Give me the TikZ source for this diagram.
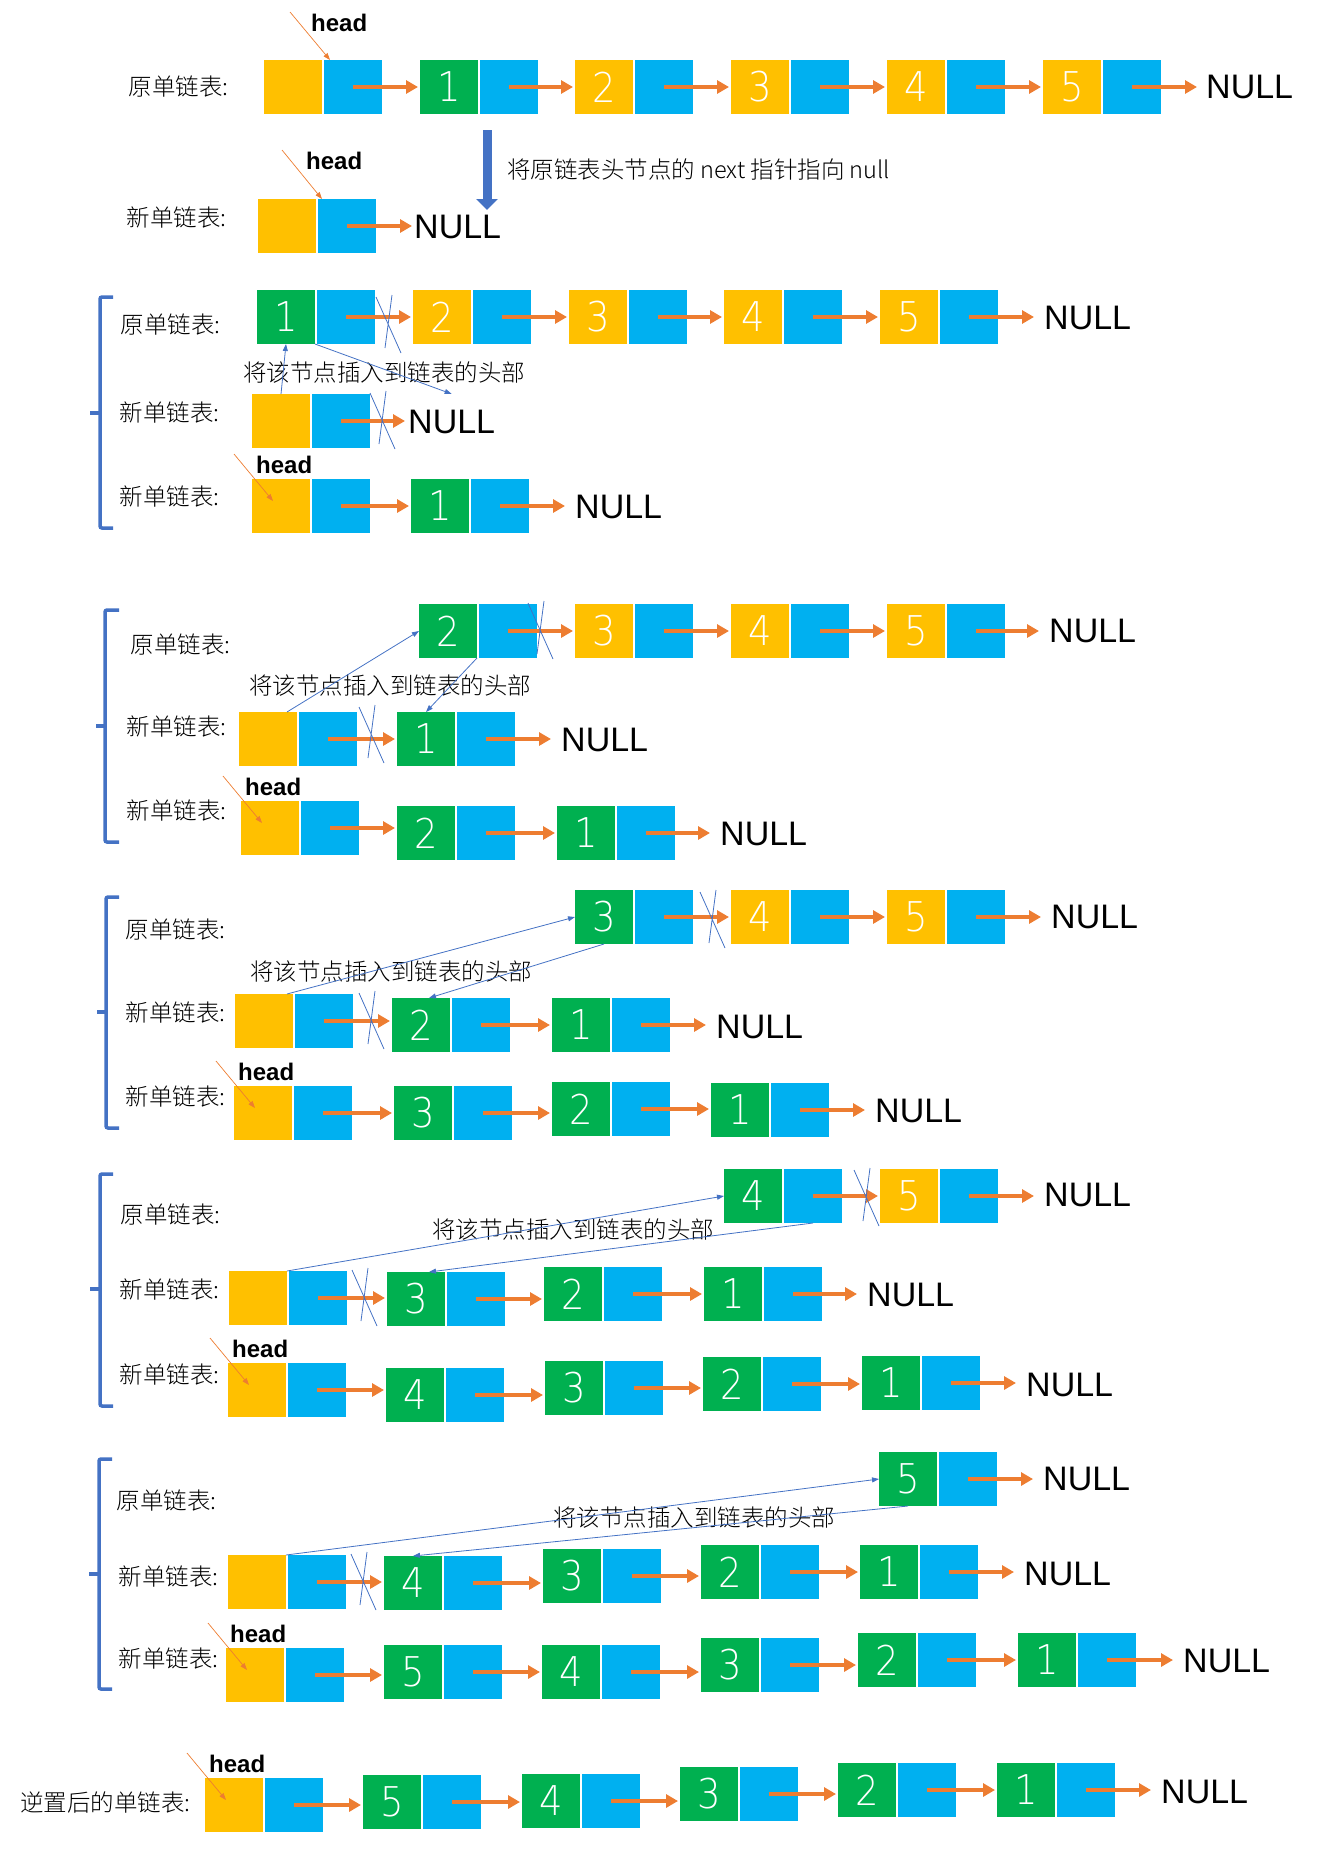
\documentclass[tikz,border=0pt]{standalone}
\usepackage{fontspec}
\usepackage{xcolor}
\usetikzlibrary{arrows.meta}

\IfFontExistsTF{Noto Sans CJK SC Light}
  {\newfontfamily\cjk{Noto Sans CJK SC Light}}
  {\newfontfamily\cjk{Noto Sans CJK SC}}
\newfontfamily\latinfont{Liberation Sans}
\IfFontExistsTF{DejaVu Sans ExtraLight}
  {\newfontfamily\digitfont[FakeStretch=0.9]{DejaVu Sans ExtraLight}}
  {\newfontfamily\digitfont{Liberation Sans}}

\definecolor{cellyellow}{HTML}{FFC000}
\definecolor{cellblue}{HTML}{00B0F0}
\definecolor{cellgreen}{HTML}{00B050}
\definecolor{linkorange}{HTML}{ED7D31}
\definecolor{markblue}{HTML}{4472C4}

\tikzset{
  cell/.style={minimum width=58pt, minimum height=54pt, inner sep=0pt,
    outer sep=0pt, anchor=north west, text=white,
    font=\digitfont\fontsize{41}{41}\selectfont},
  rowname/.style={anchor=east, inner sep=0pt, font=\cjk\fontsize{23.5}{24}\selectfont},
  note/.style={inner sep=0pt, font=\cjk\fontsize{23.5}{24}\selectfont},
  nulltext/.style={anchor=west, inner sep=0pt, font=\latinfont\fontsize{34}{34}\selectfont},
  headtext/.style={anchor=south west, inner sep=0pt,
    font=\latinfont\bfseries\fontsize{24}{24}\selectfont},
  link/.style={draw=linkorange, line width=4pt, -{Triangle[length=12pt,width=13pt]},
    shorten >=2pt},
  headptr/.style={draw=linkorange, line width=0.7pt, -{Triangle[length=7pt,width=5pt]}},
  insert/.style={draw=markblue, line width=0.8pt, -{Triangle[length=7pt,width=5pt]}},
  cross/.style={draw=markblue, line width=0.8pt},
  brace/.style={draw=markblue, line width=3.5pt, rounded corners=2pt},
  drop/.style={draw=markblue, line width=9pt, -{Triangle[length=11pt,width=21pt]}},
}

% list node: data cell + pointer cell
\newcommand\lnode[5]{%
  \node[cell, fill=#4] (#1d) at (#2,#3) {#5};
  \node[cell, fill=cellblue] (#1p) at (#2+60,#3) {};
}
\newcommand\link[3][]{\draw[link,#1] (#2p.center) -- (#2p.center -| #3d.west);}
\newcommand\tonull[3][]{\draw[link,shorten >=10pt,#1] (#2p.center) -- (#2p.center -| #3.west);}
\newcommand\crossmark[2]{\draw[cross] (#1,#2) -- ++(25,56) (#1+16,#2-2) -- ++(-7,53);}
\newcommand\headmark[1]{%
  \node[headtext] (#1h) at ([shift={(4,-5)}]#1d.north west) {head};
  \coordinate (#1s) at ([shift={(-18,-25)}]#1d.north west);
  \draw[headptr] (#1s) -- ([shift={(21,22)}]#1d.north west);
}

\begin{document}
\begin{tikzpicture}[x=1pt,y=-1pt]
\useasboundingbox (0,0) rectangle (1319,1855);

% original list
\node[rowname] (ol) at (229,87) {原单链表:};
\lnode{o0}{264}{60}{cellyellow}{}
\lnode{o1}{420}{60}{cellgreen}{1}
\lnode{o2}{575}{60}{cellyellow}{2}
\lnode{o3}{731}{60}{cellyellow}{3}
\lnode{o4}{887}{60}{cellyellow}{4}
\lnode{o5}{1043}{60}{cellyellow}{5}
\node[nulltext] (onull) at (1206,87) {NULL};
\link{o0}{o1} \link{o1}{o2} \link{o2}{o3} \link{o3}{o4} \link{o4}{o5}
\tonull[shorten >=9pt]{o5}{onull}
\node[headtext] (oh) at ([shift={(47,-28)}]o0d.north west) {head};
\coordinate (ohs) at ([shift={(26,-48)}]o0d.north west);
\draw[headptr] (ohs) -- ([xshift=8pt]o0d.north east);

% new list
\node[rowname] (nl) at (227,218) {新单链表:};
\lnode{n0}{258}{199}{cellyellow}{}
\node[nulltext] (nnull) at (414,227) {NULL};
\tonull[shorten >=2pt]{n0}{nnull}
\node[headtext] (nh) at ([shift={(48,-29)}]n0d.north west) {head};
\coordinate (nhs) at ([shift={(24,-49)}]n0d.north west);
\draw[headptr] (nhs) -- ([xshift=6pt]n0d.north east);
\coordinate (dtop) at (487,130);
\coordinate (dbot) at (487,210);
\draw[drop] (dtop) -- (dbot);
\node[note, anchor=west] (dnote) at (507,169) {将原链表头节点的 next 指针指向 null};

% step 1
\draw[brace] (113,297) -- (100,297) -- (100,528) -- (113,528);
\draw[brace] (100,413) -- (90,413);
\node[rowname] (g1al) at (221,325) {原单链表:};
\lnode{g1a1}{257}{290}{cellgreen}{1}
\lnode{g1a2}{413}{290}{cellyellow}{2}
\lnode{g1a3}{569}{290}{cellyellow}{3}
\lnode{g1a4}{724}{290}{cellyellow}{4}
\lnode{g1a5}{880}{290}{cellyellow}{5}
\node[nulltext] (g1anull) at (1044,318) {NULL};
\link{g1a1}{g1a2} \link{g1a2}{g1a3} \link{g1a3}{g1a4} \link{g1a4}{g1a5}
\tonull{g1a5}{g1anull}
\crossmark{376}{297}
\node[rowname] (g1bl) at (220,413) {新单链表:};
\lnode{g1b0}{252}{394}{cellyellow}{}
\node[nulltext] (g1bnull) at (408,422) {NULL};
\tonull[shorten >=3pt]{g1b0}{g1bnull}
\crossmark{370}{393}
\node[note] (g1note) at (384,373) {将该节点插入到链表的头部};
\draw[insert] (g1b0d.north) -- (g1a1d.south);
\draw[insert] (g1a1d.south east) -- ([yshift=16pt]g1bnull.north);
\node[rowname] (g1cl) at (220,497) {新单链表:};
\lnode{g1c0}{252}{479}{cellyellow}{}
\lnode{g1c1}{411}{479}{cellgreen}{1}
\node[nulltext] (g1cnull) at (575,507) {NULL};
\link{g1c0}{g1c1} \tonull{g1c1}{g1cnull}
\headmark{g1c0}

% step 2
\draw[brace] (119,610) -- (105,610) -- (105,842) -- (119,842);
\draw[brace] (105,726) -- (96,726);
\node[rowname] (g2al) at (231,645) {原单链表:};
\lnode{g2a2}{419}{604}{cellgreen}{2}
\lnode{g2a3}{575}{604}{cellyellow}{3}
\lnode{g2a4}{731}{604}{cellyellow}{4}
\lnode{g2a5}{887}{604}{cellyellow}{5}
\node[nulltext] (g2anull) at (1049,631) {NULL};
\link{g2a2}{g2a3} \link{g2a3}{g2a4} \link{g2a4}{g2a5}
\tonull{g2a5}{g2anull}
\crossmark{528}{603}
\node[rowname] (g2bl) at (227,727) {新单链表:};
\lnode{g2b0}{239}{712}{cellyellow}{}
\lnode{g2b1}{397}{712}{cellgreen}{1}
\node[nulltext] (g2bnull) at (561,740) {NULL};
\link{g2b0}{g2b1} \tonull{g2b1}{g2bnull}
\crossmark{359}{707}
\node[note] (g2note) at (390,686) {将该节点插入到链表的头部};
\draw[insert] ([xshift=-10pt]g2b0d.north east) -- (g2a2d.west);
\draw[insert] (g2a2d.south east) -- (g2b1d.north);
\node[rowname] (g2cl) at (227,811) {新单链表:};
\lnode{g2c0}{241}{801}{cellyellow}{}
\lnode{g2c2}{397}{806}{cellgreen}{2}
\lnode{g2c1}{557}{806}{cellgreen}{1}
\node[nulltext] (g2cnull) at (720,834) {NULL};
\link{g2c0}{g2c2} \link{g2c2}{g2c1} \tonull{g2c1}{g2cnull}
\headmark{g2c0}

% step 3
\draw[brace] (119,897) -- (106,897) -- (106,1128) -- (119,1128);
\draw[brace] (106,1012) -- (97,1012);
\node[rowname] (g3al) at (226,930) {原单链表:};
\lnode{g3a3}{575}{890}{cellgreen}{3}
\lnode{g3a4}{731}{890}{cellyellow}{4}
\lnode{g3a5}{887}{890}{cellyellow}{5}
\node[nulltext] (g3anull) at (1051,917) {NULL};
\link{g3a3}{g3a4} \link{g3a4}{g3a5}
\tonull{g3a5}{g3anull}
\crossmark{700}{892}
\node[rowname] (g3bl) at (226,1013) {新单链表:};
\lnode{g3b0}{235}{994}{cellyellow}{}
\lnode{g3b2}{392}{998}{cellgreen}{2}
\lnode{g3b1}{552}{998}{cellgreen}{1}
\node[nulltext] (g3bnull) at (716,1027) {NULL};
\link{g3b0}{g3b2} \link{g3b2}{g3b1} \tonull{g3b1}{g3bnull}
\crossmark{359}{993}
\node[note] (g3note) at (391,972) {将该节点插入到链表的头部};
\draw[insert] ([xshift=-6pt]g3b0d.north east) -- (g3a3d.west);
\draw[insert] (g3a3d.south) -- ([xshift=8pt]g3b2d.north);
\node[rowname] (g3cl) at (226,1097) {新单链表:};
\lnode{g3c0}{234}{1086}{cellyellow}{}
\lnode{g3c3}{394}{1086}{cellgreen}{3}
\lnode{g3c2}{552}{1082}{cellgreen}{2}
\lnode{g3c1}{711}{1083}{cellgreen}{1}
\node[nulltext] (g3cnull) at (875,1111) {NULL};
\link{g3c0}{g3c3} \link{g3c3}{g3c2} \link{g3c2}{g3c1} \tonull{g3c1}{g3cnull}
\headmark{g3c0}

% step 4
\draw[brace] (113,1174) -- (100,1174) -- (100,1406) -- (113,1406);
\draw[brace] (100,1289) -- (90,1289);
\node[rowname] (g4al) at (221,1215) {原单链表:};
\lnode{g4a4}{724}{1169}{cellgreen}{4}
\lnode{g4a5}{880}{1169}{cellyellow}{5}
\node[nulltext] (g4anull) at (1044,1195) {NULL};
\link{g4a4}{g4a5}
\tonull{g4a5}{g4anull}
\crossmark{854}{1170}
\node[rowname] (g4bl) at (220,1290) {新单链表:};
\lnode{g4b0}{229}{1271}{cellyellow}{}
\lnode{g4b3}{387}{1272}{cellgreen}{3}
\lnode{g4b2}{544}{1267}{cellgreen}{2}
\lnode{g4b1}{704}{1267}{cellgreen}{1}
\node[nulltext] (g4bnull) at (867,1295) {NULL};
\link{g4b0}{g4b3} \link{g4b3}{g4b2} \link{g4b2}{g4b1} \tonull{g4b1}{g4bnull}
\crossmark{352}{1270}
\node[note] (g4note) at (573,1230) {将该节点插入到链表的头部};
\draw[insert] (g4b0d.north east) -- (g4a4d.west);
\draw[insert] (g4a4p.south) -- ([xshift=13pt]g4b3d.north);
\node[rowname] (g4cl) at (220,1375) {新单链表:};
\lnode{g4c0}{228}{1363}{cellyellow}{}
\lnode{g4c4}{386}{1368}{cellgreen}{4}
\lnode{g4c3}{545}{1361}{cellgreen}{3}
\lnode{g4c2}{703}{1357}{cellgreen}{2}
\lnode{g4c1}{862}{1356}{cellgreen}{1}
\node[nulltext] (g4cnull) at (1026,1385) {NULL};
\link{g4c0}{g4c4} \link{g4c4}{g4c3} \link{g4c3}{g4c2} \link{g4c2}{g4c1}
\tonull{g4c1}{g4cnull}
\headmark{g4c0}

% step 5
\draw[brace] (112,1459) -- (99,1459) -- (99,1689) -- (112,1689);
\draw[brace] (99,1574) -- (89,1574);
\node[rowname] (g5al) at (217,1501) {原单链表:};
\lnode{g5a5}{879}{1452}{cellgreen}{5}
\node[nulltext] (g5anull) at (1043,1479) {NULL};
\tonull{g5a5}{g5anull}
\node[rowname] (g5bl) at (219,1577) {新单链表:};
\lnode{g5b0}{228}{1555}{cellyellow}{}
\lnode{g5b4}{384}{1556}{cellgreen}{4}
\lnode{g5b3}{543}{1549}{cellgreen}{3}
\lnode{g5b2}{701}{1545}{cellgreen}{2}
\lnode{g5b1}{860}{1545}{cellgreen}{1}
\node[nulltext] (g5bnull) at (1024,1574) {NULL};
\link{g5b0}{g5b4} \link{g5b4}{g5b3} \link{g5b3}{g5b2} \link{g5b2}{g5b1}
\tonull{g5b1}{g5bnull}
\crossmark{351}{1554}
\node[note] (g5note) at (694,1518) {将该节点插入到链表的头部};
\draw[insert] (g5b0d.north east) -- (g5a5d.west);
\draw[insert] (g5a5d.south) -- (g5b4d.north);
\node[rowname] (g5cl) at (219,1659) {新单链表:};
\lnode{g5c0}{226}{1648}{cellyellow}{}
\lnode{g5c5}{384}{1645}{cellgreen}{5}
\lnode{g5c4}{542}{1645}{cellgreen}{4}
\lnode{g5c3}{701}{1638}{cellgreen}{3}
\lnode{g5c2}{858}{1633}{cellgreen}{2}
\lnode{g5c1}{1018}{1633}{cellgreen}{1}
\node[nulltext] (g5cnull) at (1183,1661) {NULL};
\link{g5c0}{g5c5} \link{g5c5}{g5c4} \link{g5c4}{g5c3} \link{g5c3}{g5c2} \link{g5c2}{g5c1}
\tonull{g5c1}{g5cnull}
\headmark{g5c0}

% reversed list
\node[rowname] (fl) at (191,1802) {逆置后的单链表:};
\lnode{f0}{205}{1778}{cellyellow}{}
\lnode{f5}{363}{1775}{cellgreen}{5}
\lnode{f4}{522}{1774}{cellgreen}{4}
\lnode{f3}{680}{1767}{cellgreen}{3}
\lnode{f2}{838}{1763}{cellgreen}{2}
\lnode{f1}{997}{1763}{cellgreen}{1}
\node[nulltext] (fnull) at (1161,1792) {NULL};
\link{f0}{f5} \link{f5}{f4} \link{f4}{f3} \link{f3}{f2} \link{f2}{f1}
\tonull{f1}{fnull}
\headmark{f0}
\end{tikzpicture}
\end{document}
